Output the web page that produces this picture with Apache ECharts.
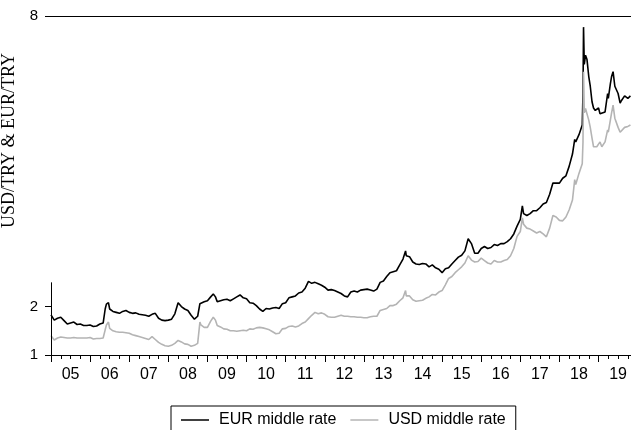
<!DOCTYPE html>
<html><head><meta charset="utf-8">
<script src="https://cdn.jsdelivr.net/npm/echarts@6/dist/echarts.min.js"></script>
<style>html,body{margin:0;padding:0;background:#fff}#c{width:631px;height:430px}</style>
</head><body><div id="c"></div>
<script>
const dates = [
"2005-01-01","2005-02-01","2005-03-01","2005-04-01","2005-05-01","2005-06-01","2005-07-01","2005-08-01","2005-09-01","2005-10-01","2005-11-01","2005-12-01",
"2006-01-01","2006-02-01","2006-03-01","2006-04-01","2006-05-01","2006-05-20","2006-06-01","2006-06-20","2006-07-01","2006-08-01","2006-09-01","2006-10-01","2006-11-01","2006-12-01",
"2007-01-01","2007-02-01","2007-03-01","2007-04-01","2007-05-01","2007-06-01","2007-07-01","2007-08-01","2007-09-01","2007-10-01","2007-11-01","2007-12-01",
"2008-01-01","2008-02-01","2008-03-01","2008-04-01","2008-05-01","2008-06-01","2008-07-01","2008-08-01","2008-09-01","2008-10-01","2008-10-22","2008-11-01","2008-12-01",
"2009-01-01","2009-02-01","2009-02-25","2009-03-15","2009-04-01","2009-05-01","2009-06-01","2009-07-01","2009-08-01","2009-09-01","2009-10-01","2009-11-01","2009-12-01",
"2010-01-01","2010-02-01","2010-03-01","2010-04-01","2010-05-01","2010-06-01","2010-07-01","2010-08-01","2010-09-01","2010-10-01","2010-11-01","2010-12-01",
"2011-01-01","2011-02-01","2011-03-01","2011-04-01","2011-05-01","2011-06-01","2011-07-01","2011-08-01","2011-09-01","2011-10-01","2011-11-01","2011-12-01",
"2012-01-01","2012-02-01","2012-03-01","2012-04-01","2012-05-01","2012-06-01","2012-07-01","2012-08-01","2012-09-01","2012-10-01","2012-11-01","2012-12-01",
"2013-01-01","2013-02-01","2013-03-01","2013-04-01","2013-05-01","2013-06-01","2013-07-01","2013-08-01","2013-09-01","2013-10-01","2013-11-01","2013-12-01",
"2014-01-01","2014-01-25","2014-02-01","2014-03-01","2014-04-01","2014-05-01","2014-06-01","2014-07-01","2014-08-01","2014-09-01","2014-10-01","2014-11-01","2014-12-01",
"2015-01-01","2015-02-01","2015-03-01","2015-04-01","2015-05-01","2015-06-01","2015-07-01","2015-08-01","2015-09-01","2015-10-01","2015-11-01","2015-12-01",
"2016-01-01","2016-02-01","2016-03-01","2016-04-01","2016-05-01","2016-06-01","2016-07-01","2016-08-01","2016-09-01","2016-10-01","2016-11-01","2016-12-01",
"2017-01-01","2017-01-20","2017-02-01","2017-03-01","2017-04-01","2017-05-01","2017-06-01","2017-07-01","2017-08-01","2017-09-01","2017-10-01","2017-11-01","2017-12-01",
"2018-01-01","2018-02-01","2018-03-01","2018-04-01","2018-05-01","2018-05-22","2018-06-01","2018-07-01","2018-08-01","2018-08-08","2018-08-13","2018-08-20","2018-09-01","2018-09-15","2018-10-01","2018-10-15","2018-11-01","2018-11-15","2018-12-01","2018-12-15",
"2019-01-01","2019-01-15","2019-02-01","2019-03-01","2019-03-25","2019-04-01","2019-04-20","2019-05-01","2019-05-15","2019-06-01","2019-07-01","2019-07-20","2019-08-01","2019-09-01","2019-10-01","2019-10-25"
];
const eurRate = [
1.83,1.72,1.76,1.78,1.71,1.64,1.66,1.68,1.63,1.64,1.61,1.61,
1.62,1.59,1.60,1.64,1.66,1.95,2.05,2.08,1.95,1.90,1.88,1.86,1.90,1.92,
1.88,1.86,1.87,1.84,1.83,1.82,1.80,1.84,1.86,1.76,1.72,1.71,
1.72,1.74,1.85,2.08,2.00,1.95,1.92,1.82,1.74,1.80,2.06,2.02,2.10,
2.12,2.20,2.26,2.20,2.10,2.12,2.14,2.15,2.12,2.16,2.20,2.24,2.18,
2.16,2.08,2.07,2.02,1.95,1.90,1.96,1.95,1.97,1.98,1.96,2.06,
2.08,2.18,2.20,2.22,2.28,2.30,2.38,2.52,2.48,2.50,2.47,2.44,
2.40,2.34,2.35,2.33,2.30,2.27,2.22,2.20,2.30,2.32,2.30,2.34,
2.35,2.36,2.34,2.32,2.36,2.50,2.53,2.62,2.70,2.72,2.74,2.86,
2.98,3.15,3.05,3.03,2.92,2.88,2.87,2.89,2.88,2.82,2.86,2.80,2.77,
2.70,2.78,2.80,2.88,2.95,3.02,3.06,3.15,3.40,3.30,3.10,3.10,
3.20,3.24,3.20,3.22,3.28,3.26,3.30,3.30,3.34,3.40,3.50,3.66,
3.80,4.08,3.92,3.88,3.92,3.98,3.98,4.04,4.12,4.15,4.32,4.55,4.55,
4.55,4.65,4.70,4.90,5.15,5.45,5.40,5.55,5.75,6.40,7.77,7.00,7.19,7.10,6.75,6.55,6.23,6.10,6.05,6.08,
6.10,5.98,5.96,6.02,6.40,6.30,6.60,6.75,6.85,6.55,6.40,6.20,6.25,6.35,6.30,6.35
];
const usdRate = [
1.40,1.31,1.35,1.37,1.36,1.35,1.35,1.36,1.35,1.35,1.35,1.35,
1.36,1.33,1.34,1.34,1.35,1.52,1.62,1.68,1.55,1.50,1.48,1.47,1.47,1.46,
1.45,1.42,1.40,1.38,1.36,1.34,1.32,1.38,1.32,1.26,1.22,1.19,
1.18,1.20,1.24,1.30,1.27,1.23,1.22,1.18,1.20,1.24,1.68,1.62,1.57,
1.57,1.70,1.78,1.72,1.61,1.58,1.54,1.53,1.50,1.50,1.49,1.50,1.51,
1.50,1.54,1.53,1.56,1.57,1.56,1.54,1.52,1.48,1.44,1.45,1.54,
1.55,1.59,1.60,1.58,1.60,1.65,1.68,1.75,1.82,1.88,1.85,1.87,
1.84,1.79,1.78,1.78,1.80,1.82,1.80,1.80,1.79,1.79,1.78,1.78,
1.77,1.77,1.79,1.80,1.80,1.92,1.94,1.96,2.02,2.02,2.05,2.12,
2.18,2.33,2.22,2.22,2.14,2.11,2.12,2.13,2.17,2.20,2.25,2.24,2.30,
2.33,2.45,2.58,2.62,2.70,2.76,2.82,2.90,3.05,2.96,2.92,2.93,
3.00,2.95,2.90,2.88,2.95,2.92,2.92,2.95,2.97,3.05,3.20,3.45,
3.55,3.83,3.70,3.62,3.60,3.56,3.52,3.55,3.50,3.44,3.62,3.88,3.85,
3.78,3.77,3.85,4.00,4.20,4.62,4.52,4.75,4.95,5.40,6.85,6.00,6.09,6.10,5.85,5.70,5.48,5.30,5.27,5.30,
5.33,5.40,5.30,5.40,5.65,5.60,5.85,6.00,6.16,5.89,5.70,5.60,5.58,5.70,5.72,5.75
];
const yearTicks = [2005,2006,2007,2008,2009,2010,2011,2012,2013,2014,2015,2016,2017,2018,2019];
const yearLabels = ["05","06","07","08","09","10","11","12","13","14","15","16","17","18","19"];
const yTicks = [1,2,8];
const seriesNames = ["EUR middle rate","USD middle rate"];

function toYear(s){const p=s.split('-').map(Number);return p[0]+(p[1]-1)/12+(p[2]-1)/365;}
const xMin = 2005, xMax = 2019.83;
const quarterTicks = [];
yearTicks.forEach(y=>{[0.25,0.5,0.75].forEach(q=>{if(y+q<xMax)quarterTicks.push(y+q);});});
const midYears = yearTicks.map(y=>y+0.5);

const chart = echarts.init(document.getElementById('c'), null, {renderer:'canvas'});
const axisColor = '#000';
const font = 'Liberation Sans, Arial, sans-serif';
chart.setOption({
  animation:false,
  backgroundColor:'#fff',
  grid:{left:51,right:0,top:16,bottom:75,containLabel:false,outerBoundsMode:'none'},
  legend:{
    data:seriesNames, left:171, top:406, icon:'rect',
    borderColor:'#000', borderWidth:1, padding:[6,10,6,10],
    itemWidth:28, itemHeight:1.5, itemGap:14,
    textStyle:{fontFamily:font,fontSize:16,color:'#000',padding:[0,0,0,5]}
  },
  xAxis:[{
    type:'value', min:xMin, max:xMax, position:'bottom',
    axisLine:{show:true,lineStyle:{color:axisColor,width:1}},
    axisTick:{show:true,customValues:yearTicks,length:7,lineStyle:{color:axisColor}},
    axisLabel:{show:true,customValues:midYears,margin:12,fontFamily:font,fontSize:16,color:'#000',
      formatter:v=>yearLabels[yearTicks.indexOf(Math.round(v-0.5))]},
    splitLine:{show:false}
  },{
    type:'value', min:xMin, max:xMax, position:'bottom',
    axisLine:{show:false},
    axisTick:{show:true,customValues:quarterTicks,length:4,lineStyle:{color:axisColor}},
    axisLabel:{show:false}, splitLine:{show:false}
  }],
  yAxis:{
    type:'value', min:1, max:8,
    name:'USD/TRY & EUR/TRY', nameLocation:'middle', nameRotate:90, nameGap:33,
    nameTextStyle:{fontFamily:'Liberation Serif, Times New Roman, serif',fontSize:18,color:'#000',padding:[0,0,0,90]},
    axisLine:{show:false},
    axisTick:{show:true,customValues:yTicks,length:6,lineStyle:{color:axisColor}},
    axisLabel:{show:true,customValues:yTicks,margin:13,fontFamily:font,fontSize:15,color:'#000'},
    splitLine:{show:false}
  },
  series:[{
    name:seriesNames[0], type:'line', symbol:'none', showSymbol:false,
    data:dates.map((d,i)=>[toYear(d),eurRate[i]]),
    lineStyle:{color:'#000',width:1.6}, itemStyle:{color:'#000'},
    markLine:{silent:true,symbol:'none',label:{show:false},
      lineStyle:{color:axisColor,width:1,type:'solid'},
      data:[[{coord:[xMin,1]},{coord:[xMin,2.5]}],{yAxis:8}]}
  },{
    name:seriesNames[1], type:'line', symbol:'none', showSymbol:false,
    data:dates.map((d,i)=>[toYear(d),usdRate[i]]),
    lineStyle:{color:'#b4b4b4',width:1.6}, itemStyle:{color:'#b4b4b4'}
  }]
});
</script></body></html>
